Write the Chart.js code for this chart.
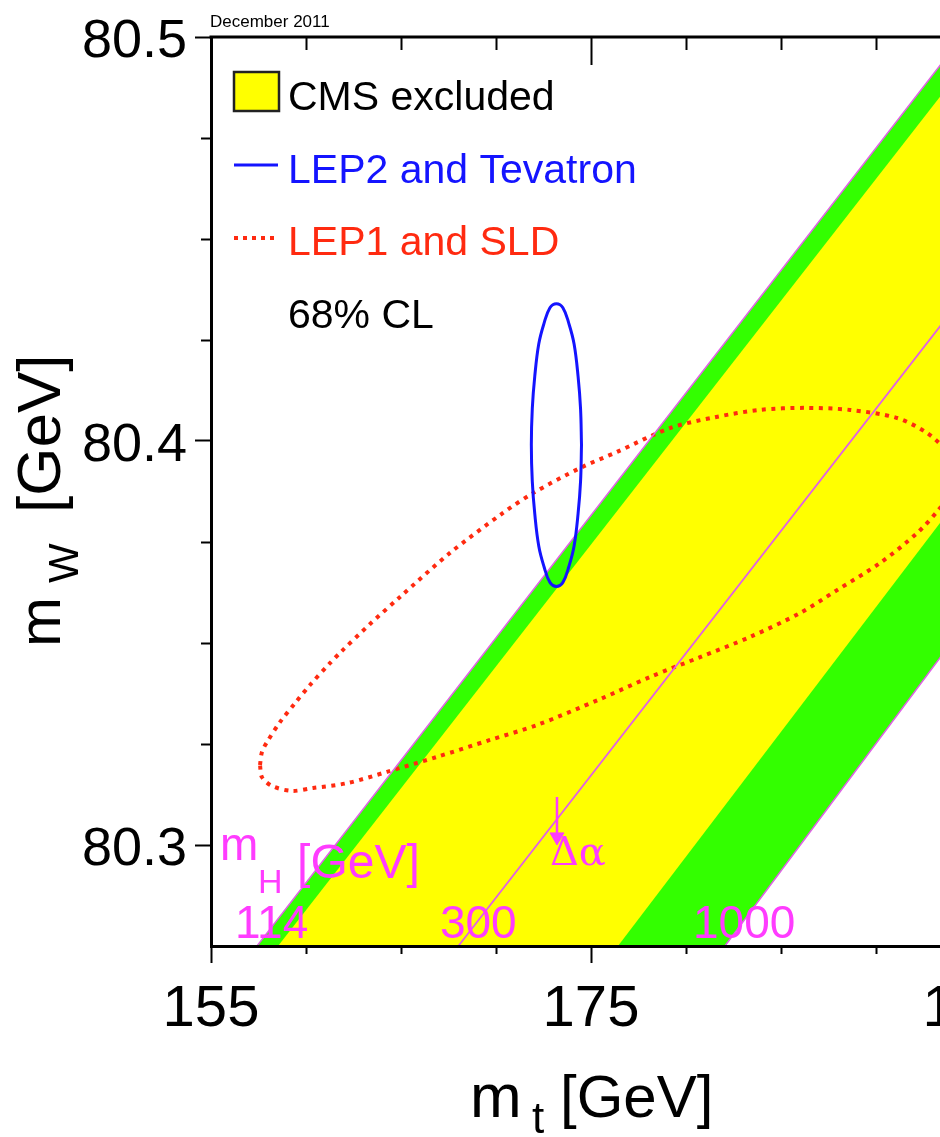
<!DOCTYPE html>
<html>
<head>
<meta charset="utf-8">
<title>mW vs mt, December 2011</title>
<script src="https://cdn.jsdelivr.net/npm/chart.js@4.4.1/dist/chart.umd.min.js"></script>
<style>
  html, body { margin: 0; padding: 0; background: #fff; overflow: hidden; }
  #wrap { position: absolute; left: 0; top: 0; width: 1000px; height: 1137px; }
</style>
</head>
<body>
<div id="wrap"><canvas id="chart" width="1000" height="1137"></canvas></div>
<script>
// axes (GeV)
const mtRange = [155, 195];
const mwRange = [80.275, 80.5];
const mtMajorTicks = [155, 175, 195];
const mtMinorTicks = [160, 165, 170, 180, 185, 190];
const mwMajorTicks = [80.3, 80.4, 80.5];
const mwMinorTicks = [80.325, 80.35, 80.375, 80.425, 80.45, 80.475];

// SM band between mH = 114 and mH = 1000
const smBandMt = [157.42, 194.53, 217.76, 182.05];
const smBandMw = [80.275, 80.5, 80.5, 80.275];
// CMS excluded part of the band
const cmsMt = [158.53, 195.82, 212.83, 176.42];
const cmsMw = [80.275, 80.5, 80.5, 80.275];

// mH iso-lines and the delta-alpha shift line
const mh114Mt = [157.42, 194.53];
const mh114Mw = [80.275, 80.5];
const mh1000Mt = [182.05, 217.76];
const mh1000Mw = [80.275, 80.5];
const dAlphaMt = [168.02, 205.21];
const dAlphaMw = [80.275, 80.5];
const dAlphaArrowMt = [173.21, 173.21];
const dAlphaArrowMw = [80.3119, 80.3020];

// LEP2 and Tevatron (direct), 68% CL contour
const lep2Mt = [174.50, 174.45, 174.32, 174.11, 173.84, 173.52, 173.18, 172.84, 172.52, 172.25, 172.04, 171.91, 171.86,
  171.91, 172.04, 172.25, 172.52, 172.84, 173.18, 173.52, 173.84, 174.11, 174.32, 174.45, 174.50];
const lep2Mw = [80.399, 80.408, 80.416, 80.424, 80.429, 80.433, 80.434, 80.433, 80.429, 80.424, 80.416, 80.408, 80.399,
  80.390, 80.382, 80.374, 80.369, 80.365, 80.364, 80.365, 80.369, 80.374, 80.382, 80.390, 80.399];

// LEP1 and SLD (indirect), 68% CL contour
const lep1Mt = [157.58, 157.68, 157.95, 158.63, 159.42, 160.21, 161.26, 161.84, 163.37, 164.95, 167.58, 170.37, 171.95,
  174.42, 176.37, 179.16, 181.53, 183.89, 186.26, 188.63, 191.11, 192.68, 193.63, 194.16, 193.79, 193.37, 192.16,
  190.21, 187.95, 186.00, 183.37, 180.74, 178.11, 175.47, 172.16, 169.68, 166.89, 164.26, 162.16, 160.37, 159.26,
  158.21, 157.68, 157.58];
const lep1Mw = [80.3198, 80.3230, 80.3255, 80.3304, 80.3351, 80.3396, 80.3450, 80.3478, 80.3547, 80.3614, 80.3723,
  80.3822, 80.3871, 80.3933, 80.3973, 80.4032, 80.4059, 80.4077, 80.4082, 80.4077, 80.4057, 80.4020, 80.3978,
  80.3918, 80.3866, 80.3834, 80.3772, 80.3698, 80.3631, 80.3574, 80.3515, 80.3465, 80.3416, 80.3361, 80.3297,
  80.3260, 80.3218, 80.3181, 80.3153, 80.3141, 80.3134, 80.3146, 80.3168, 80.3198];

const FONT = '"Liberation Sans", Arial, Helvetica, sans-serif';
const YELLOW = "#ffff00";
const GREEN = "#33ff00";
const MAGENTA_LINE = "#e060e6";
const MAGENTA_TEXT = "#ff3cff";
const BLUE = "#1414ff";
const RED = "#ff2a10";
const NONE = "rgba(0,0,0,0)";

const pts = (xs, ys) => xs.map((x, i) => ({ x, y: ys[i] }));

function put(ctx, str, x, y, size, color, family) {
  ctx.font = `${size}px ${family || FONT}`;
  ctx.fillStyle = color;
  ctx.textAlign = "left";
  ctx.textBaseline = "alphabetic";
  ctx.fillText(str, x, y);
}

function seg(ctx, x1, y1, x2, y2) {
  ctx.beginPath();
  ctx.moveTo(x1, y1);
  ctx.lineTo(x2, y2);
  ctx.stroke();
}

// no extra room for half labels at the ends, the frame is fixed
function noPadding(s) {
  s.paddingLeft = 0;
  s.paddingRight = 0;
  s.paddingTop = 0;
  s.paddingBottom = 0;
}

const decorations = {
  id: "decorations",
  afterDraw(chart) {
    const { ctx, chartArea: a } = chart;
    const xs = chart.scales.x;
    const ys = chart.scales.y;
    const px = v => Math.round(xs.getPixelForValue(v)) + 0.5;
    const py = v => Math.round(ys.getPixelForValue(v)) + 0.5;

    ctx.save();
    ctx.strokeStyle = "#000";

    // top frame with inward ticks
    ctx.lineWidth = 3;
    seg(ctx, a.left - 1.5, a.top, a.right, a.top);
    ctx.lineWidth = 2;
    mtMinorTicks.forEach(v => seg(ctx, px(v), a.top, px(v), a.top + 13));
    mtMajorTicks.forEach(v => seg(ctx, px(v), a.top, px(v), a.top + 28));
    // minor ticks on bottom and left
    mtMinorTicks.forEach(v => seg(ctx, px(v), a.bottom, px(v), a.bottom + 8));
    mwMinorTicks.forEach(v => seg(ctx, a.left - 10, py(v), a.left, py(v)));

    // date stamp
    put(ctx, "December 2011", 210, 27, 17, "#000");

    // axis titles
    put(ctx, "m", 470, 1117, 62, "#000");
    put(ctx, "t", 532, 1133, 44, "#000");
    put(ctx, "[GeV]", 560, 1117, 60, "#000");

    ctx.save();
    ctx.translate(60, 647);
    ctx.rotate(-Math.PI / 2);
    put(ctx, "m", 0, 0, 60, "#000");
    put(ctx, "W", 64, 18, 42, "#000");
    put(ctx, "[GeV]", 134, 0, 62, "#000");
    ctx.restore();

    // legend
    ctx.fillStyle = YELLOW;
    ctx.fillRect(234, 72, 45, 39);
    ctx.lineWidth = 2.5;
    ctx.strokeStyle = "#222";
    ctx.strokeRect(234, 72, 45, 39);
    put(ctx, "CMS excluded", 288, 110, 41, "#000");

    ctx.strokeStyle = BLUE;
    ctx.lineWidth = 3;
    seg(ctx, 234, 165, 278, 165);
    put(ctx, "LEP2 and Tevatron", 288, 183, 41, BLUE);

    ctx.strokeStyle = RED;
    ctx.lineWidth = 4;
    ctx.setLineDash([4, 5]);
    seg(ctx, 234, 238, 278, 238);
    ctx.setLineDash([]);
    put(ctx, "LEP1 and SLD", 288, 255, 41, RED);

    put(ctx, "68% CL", 288, 328, 41, "#000");

    // mH scale annotations, anchored in data coordinates
    const at = (mt, mw) => [xs.getPixelForValue(mt), ys.getPixelForValue(mw)];
    let p;
    p = at(155.47, 80.2963); put(ctx, "m", p[0], p[1], 46, MAGENTA_TEXT);
    p = at(157.47, 80.2881); put(ctx, "H", p[0], p[1], 34, MAGENTA_TEXT);
    p = at(159.53, 80.2918); put(ctx, "[GeV]", p[0], p[1], 48, MAGENTA_TEXT);
    p = at(156.26, 80.2770); put(ctx, "114", p[0], p[1], 46, MAGENTA_TEXT);
    p = at(167.05, 80.2770); put(ctx, "300", p[0], p[1], 46, MAGENTA_TEXT);
    p = at(180.37, 80.2770); put(ctx, "1000", p[0], p[1], 46, MAGENTA_TEXT);
    p = at(172.84, 80.2950); put(ctx, "Δα", p[0], p[1], 40, MAGENTA_TEXT, '"DejaVu Serif", serif');

    ctx.restore();
  }
};

const lineDefaults = { pointRadius: 0, fill: false, tension: 0 };

const datasets = [
  { label: "SM band", data: pts(smBandMt, smBandMw), backgroundColor: GREEN, borderColor: NONE, borderWidth: 0, fill: "shape", order: 9 },
  { label: "CMS excluded", data: pts(cmsMt, cmsMw), backgroundColor: YELLOW, borderColor: NONE, borderWidth: 0, fill: "shape", order: 8 },
  { label: "LEP1 and SLD", data: pts(lep1Mt, lep1Mw), borderColor: RED, borderWidth: 4, borderDash: [4, 5.5], tension: 0.3, order: 6 },
  { label: "mH = 114", data: pts(mh114Mt, mh114Mw), borderColor: MAGENTA_LINE, borderWidth: 1.5, order: 5 },
  { label: "mH = 1000", data: pts(mh1000Mt, mh1000Mw), borderColor: MAGENTA_LINE, borderWidth: 1.5, order: 5 },
  { label: "Delta alpha", data: pts(dAlphaMt, dAlphaMw), borderColor: MAGENTA_LINE, borderWidth: 1.8, order: 5 },
  {
    label: "Delta alpha arrow", data: pts(dAlphaArrowMt, dAlphaArrowMw), borderColor: MAGENTA_TEXT, borderWidth: 2.5,
    pointRadius: [0, 8], pointStyle: "triangle", pointRotation: 180,
    pointBackgroundColor: MAGENTA_TEXT, pointBorderColor: MAGENTA_TEXT, pointBorderWidth: 1, order: 4
  },
  { label: "LEP2 and Tevatron", data: pts(lep2Mt, lep2Mw), borderColor: BLUE, borderWidth: 3, tension: 0.4, order: 2 },
].map(d => Object.assign({}, lineDefaults, d));

new Chart(document.getElementById("chart"), {
  type: "line",
  data: { datasets },
  options: {
    responsive: false,
    devicePixelRatio: 1,
    animation: false,
    events: [],
    layout: { padding: { left: 0, top: 37, right: 29, bottom: 0 } },
    plugins: {
      legend: { display: false },
      tooltip: { enabled: false },
    },
    scales: {
      x: {
        type: "linear",
        min: mtRange[0],
        max: mtRange[1],
        afterBuildTicks: s => { s.ticks = mtMajorTicks.map(value => ({ value })); },
        afterFit: s => { s.height = 1137 - 946; noPadding(s); },
        border: { display: true, color: "#000", width: 3, z: 1 },
        grid: { display: true, drawOnChartArea: false, drawTicks: true, tickLength: 17, tickWidth: 2, tickColor: "#000" },
        ticks: {
          color: "#000",
          font: { family: FONT, size: 58 },
          padding: 12,
          autoSkip: false,
          maxRotation: 0,
          minRotation: 0,
          callback: v => String(v),
        },
      },
      y: {
        type: "linear",
        min: mwRange[0],
        max: mwRange[1],
        afterBuildTicks: s => { s.ticks = mwMajorTicks.map(value => ({ value })); },
        afterFit: s => { s.width = 211; noPadding(s); },
        border: { display: true, color: "#000", width: 3, z: 1 },
        grid: { display: true, drawOnChartArea: false, drawTicks: true, tickLength: 16, tickWidth: 2, tickColor: "#000" },
        ticks: {
          color: "#000",
          font: { family: FONT, size: 54 },
          padding: 8,
          labelOffset: 5,
          callback: v => v.toFixed(1),
        },
      },
    },
  },
  plugins: [decorations],
});
</script>
</body>
</html>
